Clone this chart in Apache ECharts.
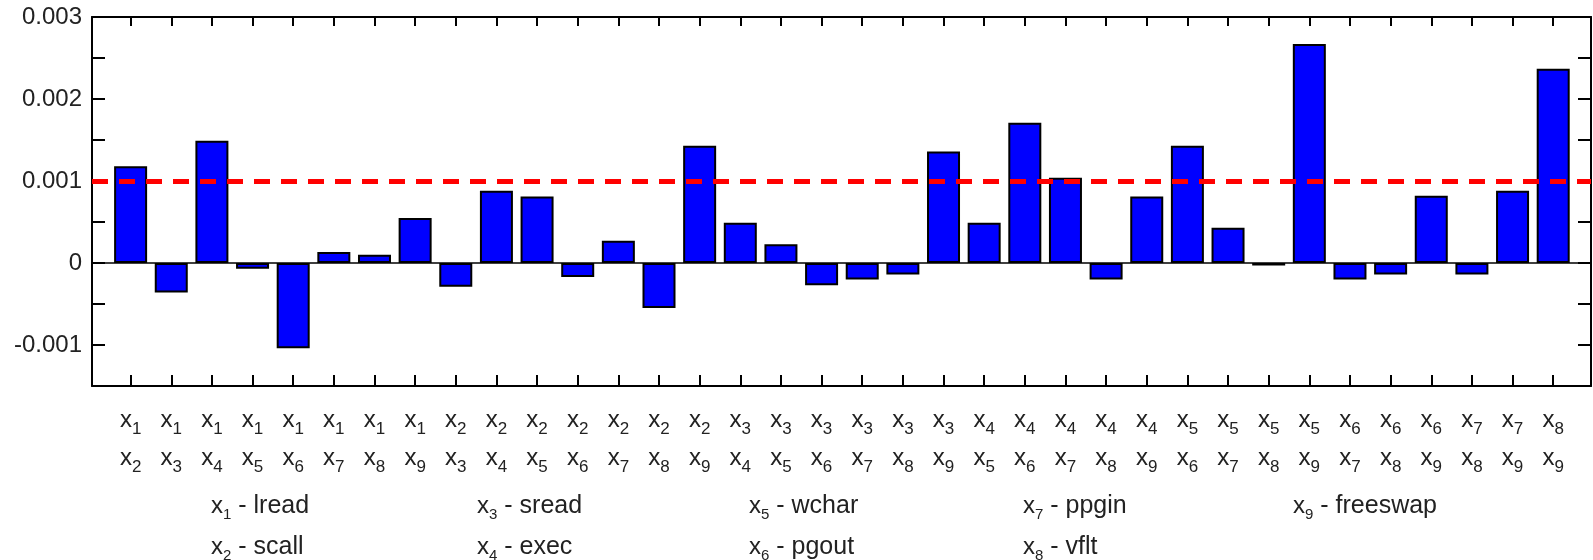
<!DOCTYPE html>
<html>
<head>
<meta charset="utf-8">
<script src="https://cdn.jsdelivr.net/npm/echarts@6/dist/echarts.min.js"></script>
<style>html,body{margin:0;padding:0;background:#fff}#c{width:1593px;height:560px}</style>
</head>
<body>
<div id="c"></div>
<script>
// pair subscripts (first and second variable of each pair)
const firstIdx  = [1,1,1,1,1,1,1,1, 2,2,2,2,2,2,2, 3,3,3,3,3,3, 4,4,4,4,4, 5,5,5,5, 6,6,6, 7,7, 8];
const secondIdx = [2,3,4,5,6,7,8,9, 3,4,5,6,7,8,9, 4,5,6,7,8,9, 5,6,7,8,9, 6,7,8,9, 7,8,9, 8,9, 9];
// bar values
const values = [
  0.00118, -0.00036, 0.00149, -0.00007, -0.00104, 0.000135, 0.0001, 0.00055,
  -0.00029, 0.00088, 0.00081, -0.00017, 0.00027, -0.00055, 0.00143,
  0.00049, 0.00023, -0.00027, -0.0002, -0.00014, 0.00136,
  0.00049, 0.00171, 0.00104, -0.0002, 0.00081,
  0.00143, 0.00043, -0.00003, 0.00267,
  -0.0002, -0.00014, 0.00082,
  -0.00014, 0.00088,
  0.00237
];
// variable names for the key
const varNames = ['lread','scall','sread','exec','wchar','pgout','ppgin','vflt','freeswap'];
// threshold line
const threshold = 0.001;
// y-axis range and tick step
const yMin = -0.0015, yMax = 0.003, yStep = 0.0005;

const xMin = -0.95, xMax = 35.93;
const chart = echarts.init(document.getElementById('c'), null, {renderer:'canvas'});
const idx = values.map((v,i)=>i);
const barData = values.map((v,i)=>[i, v]);

const labelFont = '"Liberation Sans",Arial,sans-serif';
const richLab = {
  x: {fontFamily: labelFont, fontSize: 24, color: '#222', lineHeight: 38, verticalAlign: 'top', padding:[0,0,0,0]},
  s: {fontFamily: labelFont, fontSize: 17, color: '#222', lineHeight: 38, verticalAlign: 'top', padding:[13,0,0,0]}
};

const colX = [211, 477, 749, 1023, 1293];
const rowY = [494, 535];
const graphics = varNames.map((n,i)=>({
  type: 'text',
  left: colX[Math.floor(i/2)],
  top: rowY[i%2],
  style: {
    text: '{x|x}{s|' + (i+1) + '}{t| - ' + n + '}',
    rich: {
      x: {fontFamily: labelFont, fontSize: 24, fill: '#222', verticalAlign:'top', lineHeight: 30},
      s: {fontFamily: labelFont, fontSize: 15, fill: '#222', verticalAlign:'top', lineHeight: 30, padding:[13,0,0,0]},
      t: {fontFamily: labelFont, fontSize: 25, fill: '#222', verticalAlign:'top', lineHeight: 30}
    }
  }
}));

const tickVals = idx.slice();
const xBase = {
  type: 'value', min: xMin, max: xMax,
  splitLine: {show:false},
  axisLine: {show:true, onZero:false, lineStyle:{color:'#000', width:2}},
};

chart.setOption({
  animation: false,
  grid: {left: 92, right: 2, top: 17, bottom: 174, containLabel:false},
  xAxis: [
    Object.assign({}, xBase, {
      position: 'bottom',
      axisTick: {show:true, inside:true, length:11, customValues: tickVals, lineStyle:{color:'#000', width:2}},
      axisLabel: {show:true, margin: 22, customValues: tickVals, rich: richLab,
        formatter: v => { const i = Math.round(v); return '{x|x}{s|' + firstIdx[i] + '}\n{x|x}{s|' + secondIdx[i] + '}'; }}
    }),
    Object.assign({}, xBase, {
      position: 'top',
      axisTick: {show:true, inside:true, length:9, customValues: tickVals, lineStyle:{color:'#000', width:2}},
      axisLabel: {show:false}
    })
  ],
  yAxis: [
    {
      type: 'value', min: yMin, max: yMax, interval: yStep, position: 'left',
      splitLine: {show:false},
      axisLine: {show:true, onZero:false, lineStyle:{color:'#000', width:2}},
      axisTick: {show:true, inside:true, length:13, lineStyle:{color:'#000', width:2}},
      axisLabel: {
        show: true, margin: 10, fontFamily: '"Liberation Sans",Arial,sans-serif', fontSize: 24, color: '#222',
        formatter: v => {
          const k = Math.round(v / yStep);
          if (k % 2 !== 0) return '';
          const r = Math.round(v * 1000) / 1000;
          return r === 0 ? '0' : r.toFixed(3);
        }
      }
    },
    {
      type: 'value', min: yMin, max: yMax, interval: yStep, position: 'right',
      splitLine: {show:false},
      axisLine: {show:true, onZero:false, lineStyle:{color:'#000', width:2}},
      axisTick: {show:true, inside:true, length:13, lineStyle:{color:'#000', width:2}},
      axisLabel: {show:false}
    }
  ],
  series: [
    {
      type: 'bar', xAxisIndex: 0, yAxisIndex: 0,
      data: barData, barWidth: 33,
      itemStyle: {color: '#0000ff', borderColor: '#000', borderWidth: 2},
      markLine: {
        silent: true, symbol: 'none', animation: false,
        label: {show:false},
        data: [
          [{coord: [xMin, 0], lineStyle: {color:'#000', width:1.5, type:'solid'}}, {coord: [xMax, 0]}],
          [{coord: [xMin, threshold], lineStyle: {color:'#ff0000', width:5, type:[16,11], dashOffset: 0}}, {coord: [xMax, threshold]}]
        ]
      },
      z: 2
    }
  ],
  graphic: graphics
});
</script>
</body>
</html>
